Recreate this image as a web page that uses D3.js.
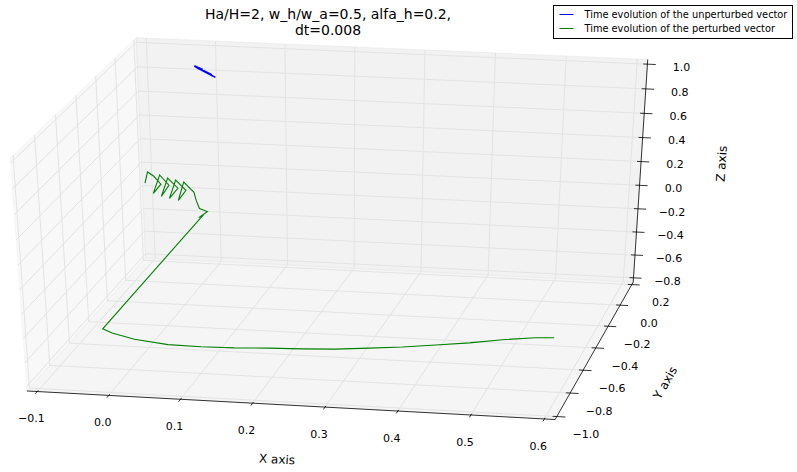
<!DOCTYPE html>
<html>
<head>
<meta charset="utf-8">
<script src="https://cdn.jsdelivr.net/npm/d3@7"></script>
<style>
body { margin: 0; background: #fff; }
text { font-family: "DejaVu Sans", sans-serif; fill: #000; }
</style>
</head>
<body>
<svg id="chart" width="797" height="472"></svg>
<script>
// axis limits and tick values
var xLim = [-0.1, 0.6], yLim = [-1.0, 0.2], zLim = [-0.8, 1.0];
var xTicks = [-0.1, 0.0, 0.1, 0.2, 0.3, 0.4, 0.5, 0.6];
var yTicks = [-1.0, -0.8, -0.6, -0.4, -0.2, 0.0, 0.2];
var zTicks = [-0.8, -0.6, -0.4, -0.2, 0.0, 0.2, 0.4, 0.6, 0.8, 1.0];

var titleLines = ["Ha/H=2, w_h/w_a=0.5, alfa_h=0.2,", "dt=0.008"];
var seriesNames = ["Time evolution of the unperturbed vector", "Time evolution of the perturbed vector"];

// unperturbed vector (x, y, z), stays near the z pole
var unperturbed = [
  [-0.002, 0.004, 1.000], [0.040, -0.100, 0.995], [0.034, -0.082, 0.990],
  [0.004, -0.006, 0.986], [-0.002, 0.006, 0.993], [0.032, -0.076, 0.996],
  [0.022, -0.050, 0.989], [0.000, 0.002, 0.995], [0.014, -0.030, 0.998]
];

// perturbed vector (x, y, z)
var perturbed = [
  [-0.0794, 0, 0.0127], [-0.0750, 0, 0.1091], [-0.0663, 0, 0.0770], [-0.0561, 0, 0.0107],
  [-0.0677, 0, -0.0704], [-0.0575, 0, 0.0881], [-0.0444, 0, 0.0054], [-0.0561, 0, -0.0930],
  [-0.0459, 0, 0.0655], [-0.0314, 0, -0.0168], [-0.0444, 0, -0.1070], [-0.0343, 0, 0.0516],
  [-0.0197, 0, -0.0307], [-0.0314, 0, -0.1205], [-0.0226, 0, 0.0376], [-0.0081, 0, -0.0447],
  [-0.0052, 0, -0.1130], [-0.0008, 0, -0.1809], [0.0108, 0, -0.2035], [-0.0023, 0, -0.2591],
  [0.0050, 0, -0.2311],
  [-0.0807, -0.4955, -0.8], [-0.0626, -0.5283, -0.8], [-0.0243, -0.5739, -0.8],
  [0.0281, -0.6052, -0.8], [0.0758, -0.6090, -0.8], [0.1225, -0.6035, -0.8],
  [0.1694, -0.5900, -0.8], [0.2161, -0.5810, -0.8], [0.2617, -0.5678, -0.8],
  [0.3076, -0.5433, -0.8], [0.3521, -0.5191, -0.8], [0.3955, -0.4856, -0.8],
  [0.4403, -0.4517, -0.8], [0.4826, -0.4090, -0.8], [0.5260, -0.3755, -0.8],
  [0.5523, -0.3670, -0.8]
];

// view (matplotlib style camera)
var elev = 30, azim = -79, dist = 10;
var cx = 340.2, cy = 223.7, kx = 5294.7, ky = 2627.6;

function padded(l) { var d = (l[1] - l[0]) / 48; return [l[0] - d, l[1] + d]; }
var xBox = padded(xLim), yBox = padded(yLim), zBox = padded(zLim);
var sx = d3.scaleLinear().domain(xBox).range([-0.5, 0.5]);
var sy = d3.scaleLinear().domain(yBox).range([-0.5, 0.5]);
var sz = d3.scaleLinear().domain(zBox).range([-0.5, 0.5]);

var e = elev * Math.PI / 180, a = azim * Math.PI / 180;
var n = [Math.cos(e) * Math.cos(a), Math.cos(e) * Math.sin(a), Math.sin(e)];
var u = [-Math.sin(a), Math.cos(a), 0];
var v = [n[1] * u[2] - n[2] * u[1], n[2] * u[0] - n[0] * u[2], n[0] * u[1] - n[1] * u[0]];
function dot(p, q) { return p[0] * q[0] + p[1] * q[1] + p[2] * q[2]; }

function project(p) {
  var q = [sx(p[0]), sy(p[1]), sz(p[2])];
  var w = dist - dot(n, q);
  return [cx + kx * dot(u, q) / w, cy - ky * dot(v, q) / w];
}

var line3 = d3.line().x(function(d){ return project(d)[0]; }).y(function(d){ return project(d)[1]; });
var fmt = d3.format(".1f");
var svg = d3.select("#chart");

var x0 = xBox[0], x1 = xBox[1], y0 = yBox[0], y1 = yBox[1], z0 = zBox[0], z1 = zBox[1];

// panes
var panes = [
  { pts: [[x0,y0,z0],[x0,y1,z0],[x0,y1,z1],[x0,y0,z1]], c: "rgba(242,242,242,0.5)" },
  { pts: [[x0,y1,z0],[x1,y1,z0],[x1,y1,z1],[x0,y1,z1]], c: "rgba(230,230,230,0.5)" },
  { pts: [[x0,y0,z0],[x1,y0,z0],[x1,y1,z0],[x0,y1,z0]], c: "rgba(236,236,236,0.5)" }
];
svg.append("g").selectAll("path").data(panes).enter().append("path")
  .attr("d", function(d){ return line3(d.pts) + "Z"; })
  .style("fill", function(d){ return d.c; })
  .style("stroke", function(d){ return d.c; })
  .style("stroke-width", 1);

// grid lines
var grid = svg.append("g").style("fill", "none").style("stroke", "#e3e3e3").style("stroke-width", 1);
xTicks.forEach(function(t){
  grid.append("path").attr("d", line3([[t,y0,z0],[t,y1,z0],[t,y1,z1]]));
});
yTicks.forEach(function(t){
  grid.append("path").attr("d", line3([[x1,t,z0],[x0,t,z0],[x0,t,z1]]));
});
zTicks.forEach(function(t){
  grid.append("path").attr("d", line3([[x1,y1,t],[x0,y1,t],[x0,y0,t]]));
});

// axis lines
var axes = svg.append("g").style("fill", "none").style("stroke", "#000").style("stroke-width", 0.8);
axes.append("path").attr("d", line3([[x0,y0,z0],[x1,y0,z0]]));
axes.append("path").attr("d", line3([[x1,y0,z0],[x1,y1,z0]]));
axes.append("path").attr("d", line3([[x1,y1,z0],[x1,y1,z1]]));

var dx = (xLim[1] - xLim[0]) / 12, dy = (yLim[1] - yLim[0]) / 12;
var labels = svg.append("g").style("font-size", "11px").attr("text-anchor", "middle");

xTicks.forEach(function(t){
  axes.append("path").attr("d", line3([[t, y0 - 0.2 * dy, z0], [t, y0 + 0.1 * dy, z0]]));
  var p = project([t, y0, z0]);
  labels.append("text").attr("x", p[0] - 6).attr("y", p[1] + 27).attr("dy", "0.35em").text(fmt(t));
});
yTicks.forEach(function(t){
  axes.append("path").attr("d", line3([[x1 + 0.2 * dx, t, z0], [x1 - 0.1 * dx, t, z0]]));
  var p = project([x1, t, z0]);
  labels.append("text").attr("x", p[0] + 29).attr("y", p[1] + 18).attr("dy", "0.35em").text(fmt(t));
});
zTicks.forEach(function(t){
  axes.append("path").attr("d", line3([[x1 + 0.2 * dx, y1, t], [x1 - 0.1 * dx, y1, t]]));
  var p = project([x1, y1, t]);
  labels.append("text").attr("x", p[0] + 34).attr("y", p[1] + 3).attr("dy", "0.35em").text(fmt(t));
});

// axis titles
function axisTitle(pa, pb, off, txt) {
  var A = project(pa), B = project(pb);
  var ang = Math.atan2(B[1] - A[1], B[0] - A[0]) * 180 / Math.PI;
  if (ang > 90) ang -= 180;
  if (ang < -90) ang += 180;
  var mx = (A[0] + B[0]) / 2 + off[0], my = (A[1] + B[1]) / 2 + off[1];
  svg.append("text").attr("text-anchor", "middle").attr("dy", "0.35em")
    .style("font-size", "12px")
    .attr("transform", "translate(" + mx + "," + my + ") rotate(" + ang + ")")
    .text(txt);
}
axisTitle([x0,y0,z0], [x1,y0,z0], [-14, 54], "X axis");
axisTitle([x1,y0,z0], [x1,y1,z0], [71, 32], "Y axis");
axisTitle([x1,y1,z0], [x1,y1,z1], [81, -7], "Z axis");

// data
svg.append("path").attr("d", line3(unperturbed))
  .style("fill", "none").style("stroke", "#0000ff").style("stroke-width", 1.5)
  .style("stroke-linejoin", "round");
svg.append("path").attr("d", line3(perturbed))
  .style("fill", "none").style("stroke", "#008000").style("stroke-width", 1.1);

// title
svg.append("g").attr("text-anchor", "middle").style("font-size", "14px")
  .selectAll("text").data(titleLines).enter().append("text")
  .attr("x", 328).attr("y", function(d, i){ return 19 + i * 16; })
  .text(function(d){ return d; });

// legend
var legend = svg.append("g").attr("transform", "translate(553.5,5.5)");
legend.append("rect").attr("width", 239).attr("height", 33)
  .style("fill", "#fff").style("stroke", "#000").style("stroke-width", 1);
var colors = ["#0000ff", "#008000"];
seriesNames.forEach(function(s, i){
  legend.append("line").attr("x1", 6).attr("x2", 20).attr("y1", 9 + i * 14).attr("y2", 9 + i * 14)
    .style("stroke", colors[i]).style("stroke-width", 1);
  legend.append("text").attr("x", 31).attr("y", 9 + i * 14).attr("dy", "0.35em")
    .style("font-size", "9.8px").text(s);
});
</script>
</body>
</html>
